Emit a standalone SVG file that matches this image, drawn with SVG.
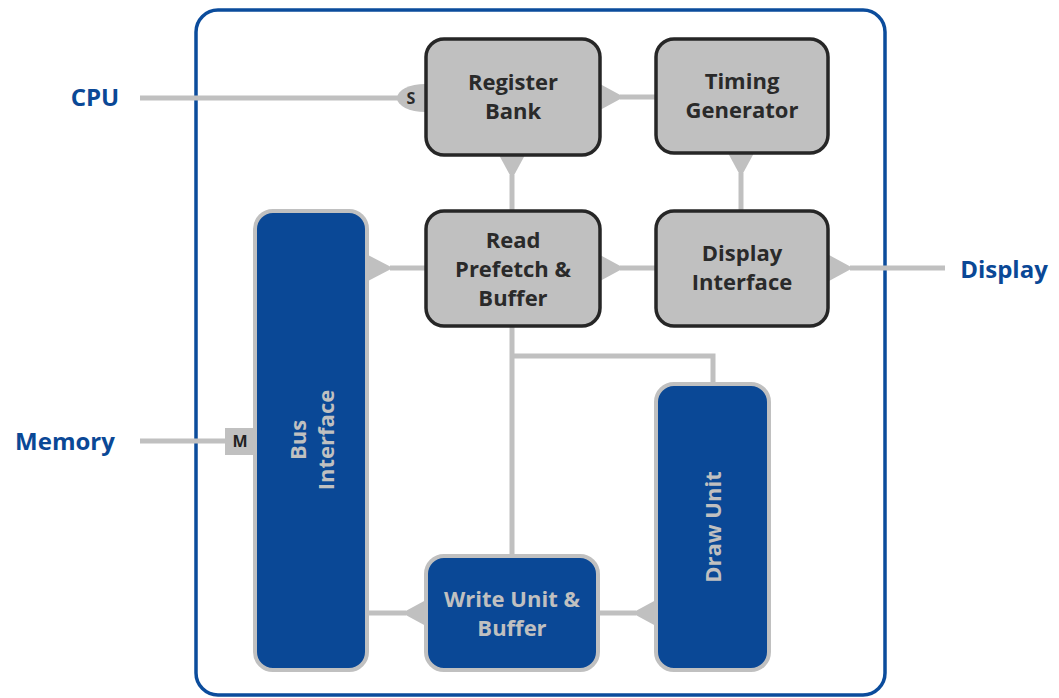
<svg xmlns="http://www.w3.org/2000/svg" width="1059" height="698" viewBox="0 0 1059 698">
<style>
text{font-family:"Open Sans","Noto Sans","DejaVu Sans",sans-serif;font-weight:bold;text-anchor:middle;dominant-baseline:central}
.gbox{fill:#c0c0c0;stroke:#262626;stroke-width:3.5}
.bbox{fill:#0a4896;stroke:#c0c0c0;stroke-width:4}
.gt{fill:#2a2a2a;font-size:22px}
.bt{fill:#c0c0c0;font-size:22px}
.lbl{fill:#0a4896;font-size:24px}
.ln{stroke:#c0c0c0;stroke-width:5;fill:none}
.ar{fill:#c0c0c0}
</style>
<rect id="frame" x="196" y="10" width="689" height="685" rx="22" fill="none" stroke="#0b4c9c" stroke-width="3.5"/>
<g id="connectors">
<path class="ln" d="M140 98H410"/>
<path class="ln" d="M140 441H226"/>
<path class="ln" d="M620 97H656"/>
<polygon class="ar" points="600,84 624,97 600,110"/>
<path class="ln" d="M512 175V210"/>
<polygon class="ar" points="499,155 512,179 525,155"/>
<path class="ln" d="M741 173V210"/>
<polygon class="ar" points="728,153 741,177 754,153"/>
<path class="ln" d="M390 268H426"/>
<polygon class="ar" points="368,255 393,268 368,281"/>
<path class="ln" d="M620 268H656"/>
<polygon class="ar" points="600,255 624,268 600,281"/>
<path class="ln" d="M850 268H945"/>
<polygon class="ar" points="829,255 853,268 829,281"/>
<path class="ln" d="M512 326V556M512 356H713V383"/>
<path class="ln" d="M368 613H406"/>
<polygon class="ar" points="426,600 402,613 426,626"/>
<path class="ln" d="M599 613H636"/>
<polygon class="ar" points="656,600 632,613 656,626"/>
<ellipse cx="425" cy="98" rx="28" ry="14" fill="#c0c0c0"/>
<text x="411" y="98" style="font-size:16px;fill:#2a2a2a">S</text>
<rect x="225" y="428" width="28" height="27" fill="#c0c0c0"/>
<text x="240" y="441" style="font-size:16px;fill:#222">M</text>
</g>
<g id="cpu"><text class="lbl" x="95" y="96">CPU</text></g>
<g id="memory"><text class="lbl" x="65" y="440">Memory</text></g>
<g id="display"><text class="lbl" x="1004" y="268">Display</text></g>
<g id="register-bank">
<rect class="gbox" x="426" y="39" width="174" height="116" rx="18"/>
<text class="gt" x="513" y="81">Register</text>
<text class="gt" x="513" y="110">Bank</text>
</g>
<g id="timing-generator">
<rect class="gbox" x="656" y="39" width="172" height="114" rx="18"/>
<text class="gt" x="742" y="80">Timing</text>
<text class="gt" x="742" y="109">Generator</text>
</g>
<g id="read-prefetch">
<rect class="gbox" x="426" y="211" width="174" height="115" rx="18"/>
<text class="gt" x="513" y="239">Read</text>
<text class="gt" x="513" y="268">Prefetch &amp;</text>
<text class="gt" x="513" y="297">Buffer</text>
</g>
<g id="display-interface">
<rect class="gbox" x="656" y="211" width="172" height="115" rx="18"/>
<text class="gt" x="742" y="252">Display</text>
<text class="gt" x="742" y="281">Interface</text>
</g>
<g id="bus-interface">
<rect class="bbox" x="255" y="211" width="112" height="459" rx="18"/>
<g transform="translate(311,440) rotate(-90)">
<text class="bt" x="0" y="-14">Bus</text>
<text class="bt" x="0" y="14">Interface</text>
</g>
</g>
<g id="write-unit">
<rect class="bbox" x="426" y="556" width="172" height="114" rx="18"/>
<text class="bt" x="512" y="598">Write Unit &amp;</text>
<text class="bt" x="512" y="627">Buffer</text>
</g>
<g id="draw-unit">
<rect class="bbox" x="656" y="384" width="113" height="286" rx="18"/>
<text class="bt" transform="translate(712,527) rotate(-90)" x="0" y="0">Draw Unit</text>
</g>
</svg>
